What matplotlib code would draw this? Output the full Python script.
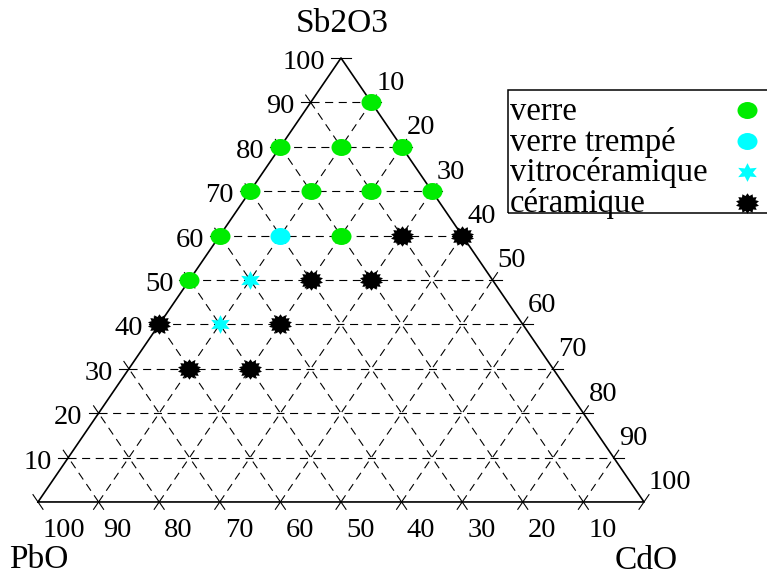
import numpy as np
import matplotlib.pyplot as plt
from matplotlib.path import Path
from matplotlib.patches import Rectangle
from matplotlib.transforms import Affine2D

plt.rcParams['font.family'] = ['Liberation Serif', 'DejaVu Serif']
plt.rcParams['lines.scale_dashes'] = False

# compositions in % (Sb2O3, CdO), PbO = 100 - Sb2O3 - CdO
categories = ['verre', 'verre trempé', 'vitrocéramique', 'céramique']
verre_sb = [90, 80, 80, 80, 70, 70, 70, 70, 60, 60, 50]
verre_cd = [10, 0, 10, 20, 0, 10, 20, 30, 0, 20, 0]
trempe_sb = [60]
trempe_cd = [10]
vitro_sb = [50, 40]
vitro_cd = [10, 10]
ceram_sb = [60, 60, 50, 50, 40, 40, 30, 30]
ceram_cd = [30, 40, 20, 30, 0, 20, 10, 20]

axis_names = ['Sb2O3', 'PbO', 'CdO']
levels = np.arange(10, 110, 10)


def xy(sb, cd):
    # ternary -> cartesian (PbO corner at origin, CdO corner at x=100)
    sb = np.asarray(sb, float)
    cd = np.asarray(cd, float)
    return cd + sb / 2, sb


def star(n, inner, sx=1.0):
    ang = np.pi / 2 + np.arange(2 * n) * np.pi / n
    r = np.where(np.arange(2 * n) % 2 == 0, 1.0, inner)
    v = np.column_stack([sx * r * np.cos(ang), r * np.sin(ang)])
    return Path(np.vstack([v, v[:1]]), closed=True)


ellipse = Path.unit_circle().transformed(Affine2D().scale(1.0, 0.85))
star6 = star(6, 0.5, 1.15)
burst = star(14, 0.75, 1.15)

styles = [dict(marker=ellipse, color='#00ec00', ms=14.4),
          dict(marker=ellipse, color='#00ffff', ms=14.4),
          dict(marker=star6, color='#00ffff', ms=13.5),
          dict(marker=burst, color='black', ms=16.5)]
data = [(verre_sb, verre_cd), (trempe_sb, trempe_cd),
        (vitro_sb, vitro_cd), (ceram_sb, ceram_cd)]

fig = plt.figure(figsize=(7.67, 5.77), dpi=100)
ax = fig.add_axes([0, 0, 1, 1])
ax.set_xlim(-6.27, 120.3)
ax.set_ylim(-16.9, 113.06)
ax.axis('off')

# dashed grid
grid = dict(color='black', lw=0.8, dashes=(5.8, 4.0))
for k in levels[:-1]:
    ax.plot(*xy([k, k], [0, 100 - k]), **grid)          # Sb2O3 = k
    ax.plot(*xy([0, 100 - k], [k, k]), **grid)          # CdO = k
    ax.plot(*xy([0, 100 - k], [100 - k, 0]), **grid)    # PbO = k

# triangle
ax.plot(*xy([0, 0, 100, 0], [0, 100, 0, 0]), color='black', lw=1.2)

# ticks: short pieces of the grid lines poking out of the triangle
dirs = {'s': (0, 1), 'c': (1, 0), 'p': (1, -1)}
L = 1.65
tick_pts = []
for k in levels[:-1]:
    tick_pts.append((k, 0, 'sp'))
    tick_pts.append((100 - k, k, 'sc'))
    tick_pts.append((0, 100 - k, 'cp'))
tick_pts += [(100, 0, 's'), (0, 0, 'p'), (0, 100, 'c')]
for sb, cd, fams in tick_pts:
    for f in fams:
        dsb, dcd = dirs[f]
        for sg in (1, -1):
            esb, ecd = sb + sg * L * dsb, cd + sg * L * dcd
            if min(esb, ecd, 100 - esb - ecd) < -1e-9:
                ax.plot(*xy([sb, esb], [cd, ecd]), color='black', lw=0.8)

# axis labels
fs_num = 20.5
for k in levels:
    ax.annotate(str(k), xy(k, 0), xytext=(-16, -11), textcoords='offset pixels',
                ha='right', va='baseline', fontsize=fs_num)
    ax.annotate(str(k), xy(0, 100 - k), xytext=(5, -35), textcoords='offset pixels',
                ha='left', va='baseline', fontsize=fs_num)
    ax.annotate(str(k), xy(100 - k, k), xytext=(5, 12.5), textcoords='offset pixels',
                ha='left', va='baseline', fontsize=fs_num)

ax.annotate(axis_names[0], xy(100, 0), xytext=(1, 26), textcoords='offset pixels',
            ha='center', va='baseline', fontsize=24)
ax.annotate(axis_names[1], xy(0, 0), xytext=(1, -66), textcoords='offset pixels',
            ha='center', va='baseline', fontsize=24)
ax.annotate(axis_names[2], xy(0, 100), xytext=(2, -67), textcoords='offset pixels',
            ha='center', va='baseline', fontsize=24)

# points
for (sb, cd), st in zip(data, styles):
    ax.plot(*xy(sb, cd), ls='none', mew=0, clip_on=False, **st)

# legend box
W, H = 767, 577
ax.add_patch(Rectangle((508 / W, 1 - 213 / H), 280 / W, 123 / H, transform=ax.transAxes,
                       fill=False, lw=1.1, ec='black', clip_on=False))
for i, (name, st) in enumerate(zip(categories, styles)):
    ax.text(510 / W, 1 - (120 + 30.7 * i) / H, name, transform=ax.transAxes,
            ha='left', va='baseline', fontsize=23.5)
    ax.plot([747 / W], [1 - (110 + 31 * i) / H], transform=ax.transAxes,
            ls='none', mew=0, clip_on=False, **st)

fig.savefig('out.png', dpi=100)
